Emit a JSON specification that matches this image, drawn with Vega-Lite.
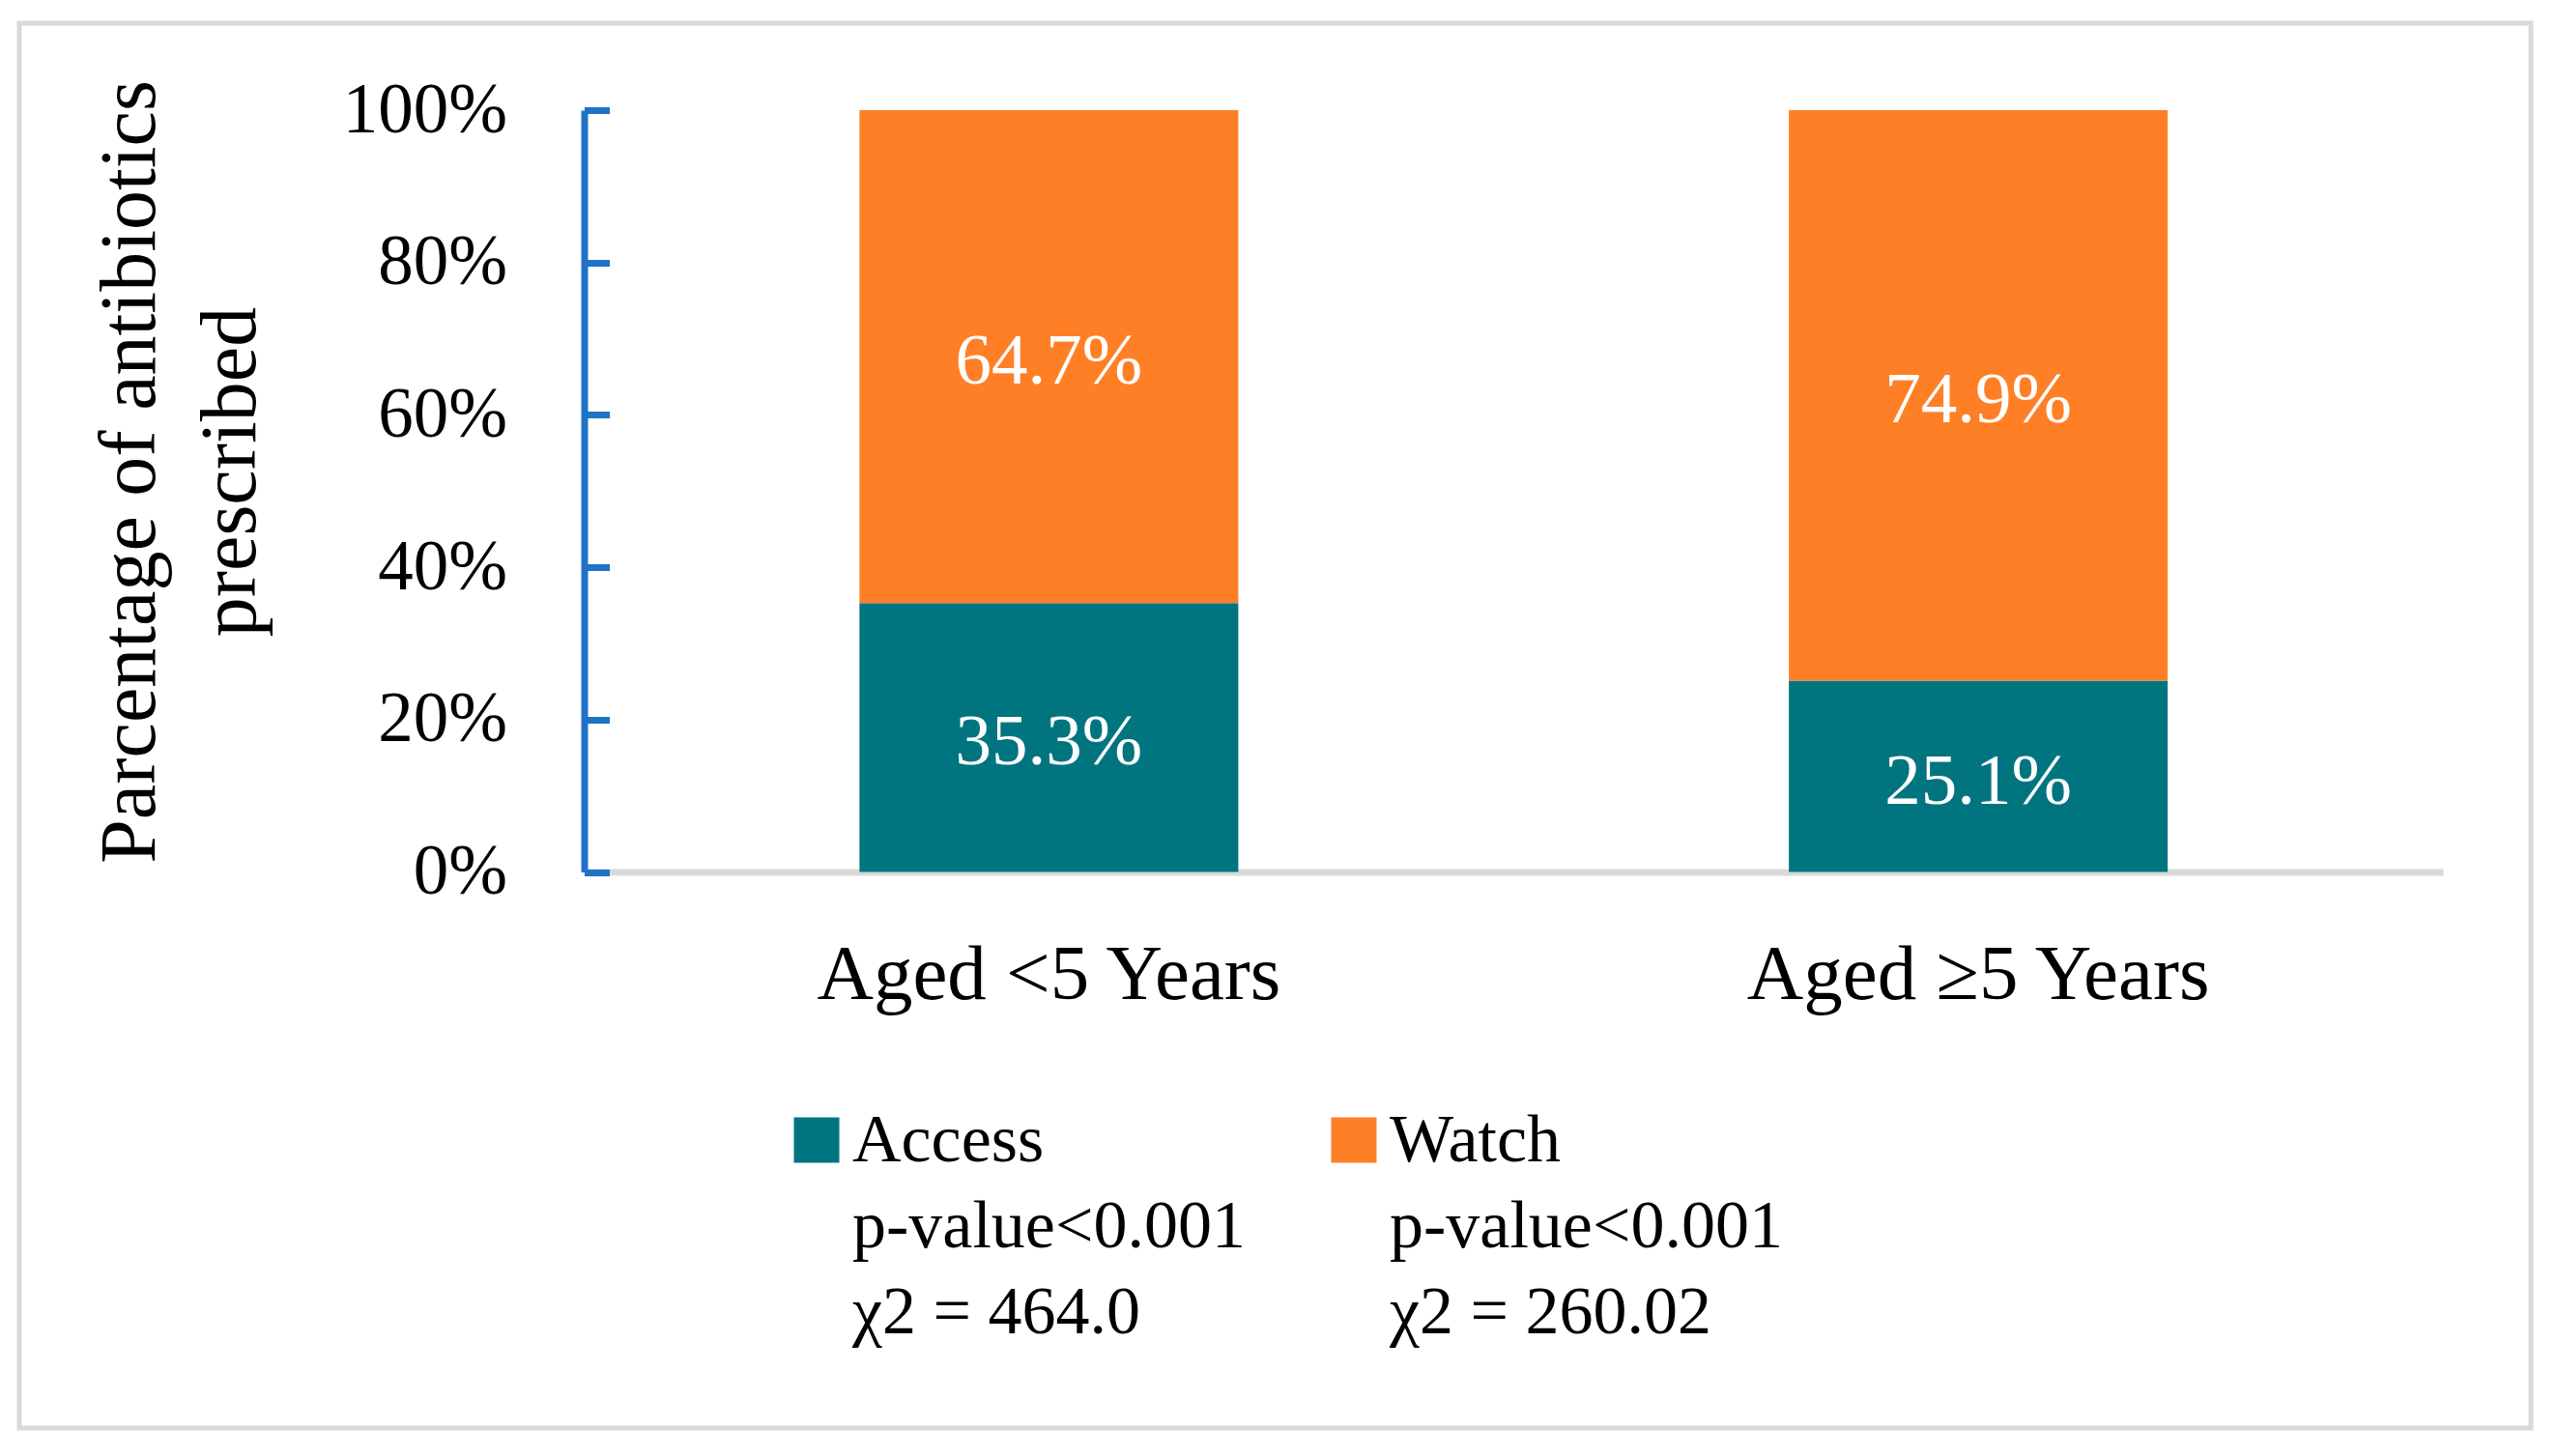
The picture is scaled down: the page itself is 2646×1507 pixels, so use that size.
{
  "$schema": "https://vega.github.io/schema/vega-lite/v6.json",
  "autosize": {"type": "none"},
  "width": 2599,
  "height": 1454,
  "padding": {"left": 20, "top": 24, "right": 27, "bottom": 29},
  "background": "white",
  "config": {
    "font": "Liberation Serif",
    "view": {"stroke": "#d9d9d9", "strokeWidth": 5}
  },
  "data": {
    "values": [
      {"group": "Aged <5 Years", "category": "Access", "value": 0.353},
      {"group": "Aged <5 Years", "category": "Watch", "value": 0.647},
      {"group": "Aged ≥5 Years", "category": "Access", "value": 0.251},
      {"group": "Aged ≥5 Years", "category": "Watch", "value": 0.749}
    ]
  },
  "transform": [
    {"stack": "value", "groupby": ["group"], "sort": [{"field": "category", "order": "ascending"}], "as": ["v0", "v1"]}
  ],
  "encoding": {
    "x": {
      "field": "group",
      "type": "nominal",
      "sort": null,
      "scale": {"type": "band", "range": [584.5, 2508], "paddingInner": 0.5924, "paddingOuter": 0.2962},
      "axis": {
        "title": null,
        "orient": "bottom",
        "offset": -575.5,
        "domainColor": "#d9d9d9",
        "domainWidth": 7,
        "domainCap": "butt",
        "ticks": false,
        "tickSize": 0,
        "labelPadding": 130.5,
        "labelBaseline": "alphabetic",
        "labelFontSize": 81,
        "labelLimit": 1000,
        "labelColor": "black",
        "labelAngle": 0,
        "grid": false
      }
    }
  },
  "layer": [
    {
      "mark": {"type": "bar"},
      "encoding": {
        "y": {
          "field": "v0",
          "type": "quantitative",
          "scale": {"domain": [0, 1], "range": [878.5, 90], "nice": false},
          "axis": {
            "title": ["Parcentage of antibiotics", "prescribed"],
            "format": ".0%",
            "values": [0, 0.2, 0.4, 0.6, 0.8, 1],
            "offset": -584.5,
            "grid": false,
            "domainColor": "#1f73c6",
            "domainWidth": 7,
            "domainCap": "butt",
            "tickColor": "#1f73c6",
            "tickWidth": 7,
            "tickSize": -26,
            "labelPadding": 106,
            "labelFontSize": 73,
            "labelColor": "black",
            "labelAlign": "right",
            "labelBaseline": "middle",
            "titleFontSize": 82,
            "titleFontWeight": "normal",
            "titleColor": "black",
            "titleAngle": -90,
            "titleAlign": "center",
            "titleBaseline": "alphabetic",
            "titleLineHeight": 104,
            "titleX": -445,
            "titleY": 464
          }
        },
        "y2": {"field": "v1"},
        "color": {
          "field": "category",
          "type": "nominal",
          "scale": {"domain": ["Access", "Watch"], "range": ["#007580", "#ff7f27"]},
          "legend": {
            "orient": "none",
            "legendX": 790,
            "legendY": 1121,
            "direction": "horizontal",
            "columns": 2,
            "title": null,
            "padding": 0,
            "symbolType": "square",
            "symbolSize": 2209,
            "symbolStrokeWidth": 0,
            "symbolOpacity": 1,
            "labelFontSize": 70,
            "labelColor": "black",
            "labelOffset": 2,
            "labelLimit": 1000,
            "labelBaseline": "alphabetic",
            "columnPadding": 77,
            "labelExpr": "datum.label == 'Access' ? ['Access', 'p-value<0.001', 'χ2 = 464.0'] : ['Watch', 'p-value<0.001', 'χ2 = 260.02']",
            "encode": {"labels": {"update": {"dy": {"value": 22}, "lineHeight": {"value": 89}}}}
          }
        }
      }
    },
    {
      "transform": [
        {"fold": ["v0", "v1"], "as": ["edge", "pos"]},
        {"aggregate": [{"op": "mean", "field": "pos", "as": "mid"}], "groupby": ["group", "category", "value"]}
      ],
      "mark": {"type": "text", "color": "white", "fontSize": 75, "baseline": "middle", "align": "center", "dy": 5},
      "encoding": {
        "y": {"field": "mid", "type": "quantitative"},
        "text": {"field": "value", "type": "quantitative", "format": ".1%"}
      }
    }
  ]
}
